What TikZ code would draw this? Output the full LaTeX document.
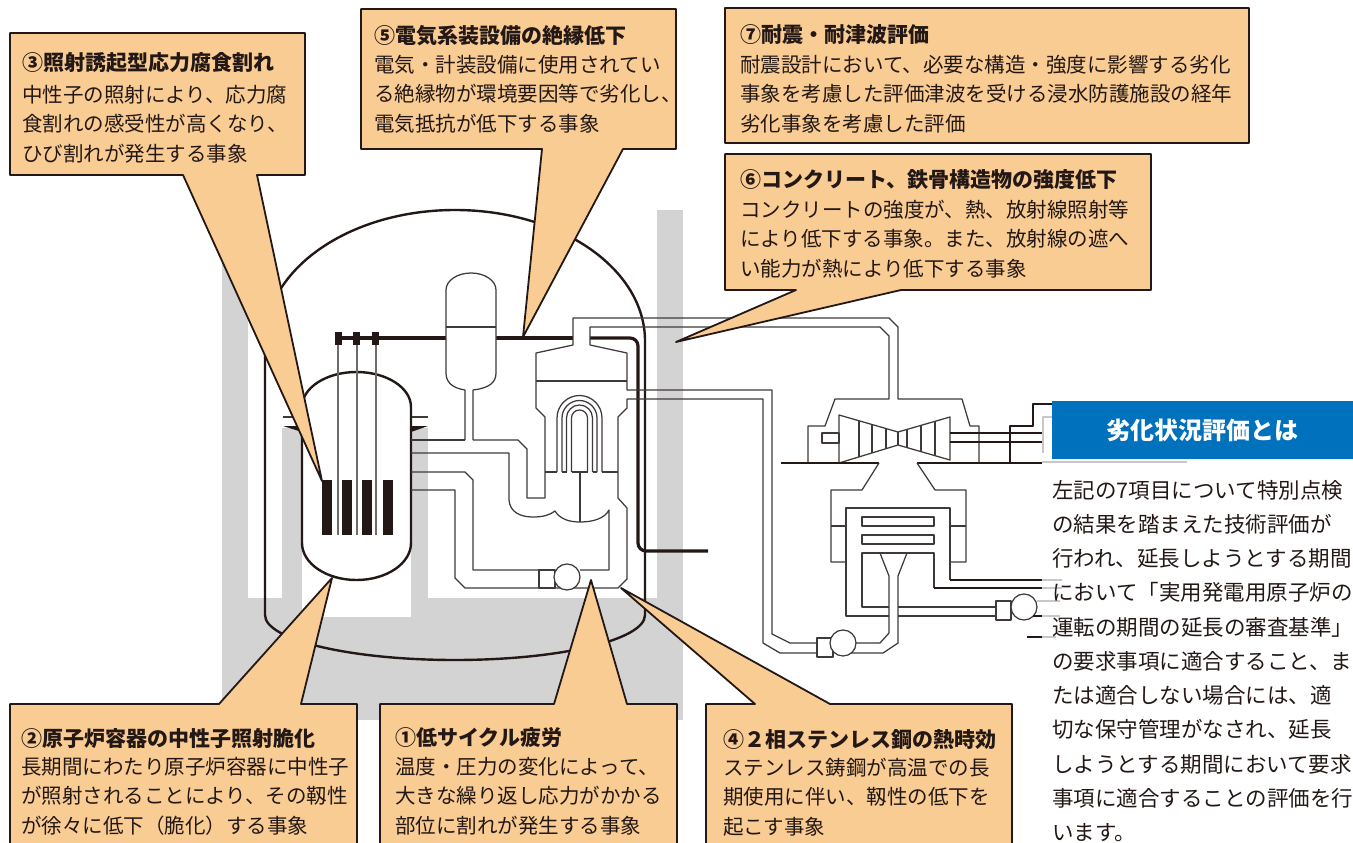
\documentclass[tikz,border=0pt]{standalone}
\usepackage{fontspec}
\usepackage{tikz}
\setmainfont{Noto Sans CJK JP}
\XeTeXlinebreaklocale "ja"
\XeTeXlinebreakskip=0pt plus 3pt minus 1pt
\definecolor{ink}{RGB}{35,24,21}
\definecolor{pipe}{RGB}{62,58,57}
\definecolor{note}{RGB}{249,204,147}
\definecolor{concrete}{RGB}{211,211,211}
\definecolor{faint}{RGB}{200,200,200}
\definecolor{head}{RGB}{0,113,188}

\begin{document}
\begin{tikzpicture}[x=1pt, y=-1pt, line join=round,
  wall/.style={draw=ink, line width=2.4pt},
  pipe/.style={draw=pipe, line width=1.25pt},
  heavy/.style={draw=ink, line width=3.2pt},
  floor/.style={draw=ink, line width=2pt},
  callout/.style={fill=note, draw=ink, line width=1.8pt},
  ttl/.style={anchor=west, inner sep=0pt, text=ink, font=\fontsize{21}{26}\selectfont\bfseries},
  txt/.style={anchor=west, inner sep=0pt, align=left, text=ink, font=\fontsize{20.5}{29.5}\selectfont}]
\useasboundingbox (0,0) rectangle (1353,843);

% concrete
\fill[concrete] (222,262) rectangle (248,720);
\fill[concrete] (222,598) rectangle (302,720);
\fill[concrete] (282,428) rectangle (302,598);
\fill[concrete] (302,617) rectangle (411,720);
\fill[concrete] (411,428) rectangle (428,720);
\fill[concrete] (428,598) rectangle (683,720);
\fill[concrete] (657,210) rectangle (683,720);

% containment
\draw[wall] (265,615) -- (265,341) arc[start angle=180, end angle=360, x radius=190, y radius=131]
  -- (645,615) arc[start angle=0, end angle=180, x radius=190, y radius=45];

% control rod drive line
\draw[heavy] (335,338) -- (446,338);
\draw[heavy] (496,338) -- (573,338);
\draw[heavy, rounded corners=8pt] (590,338) -- (638,338) -- (638,551) -- (708,551);

% reactor vessel
\draw[pipe] (283,417) -- (302,417);
\draw[pipe] (411,417) -- (428,417);
\fill[ink] (283,426) -- (302,426) -- (302,432) -- cycle;
\fill[ink] (428,426) -- (411,426) -- (411,432) -- cycle;
\draw[wall, fill=white] (302,543) -- (302,407) arc[start angle=180, end angle=360, x radius=54.5, y radius=35]
  -- (411,543) arc[start angle=0, end angle=180, x radius=54.5, y radius=37] -- cycle;
\foreach \x in {322,342,362,383}
  \fill[ink] (\x,480) rectangle ++(10,55);
\foreach \x in {338,357,376}
  \draw[pipe, draw=pipe!75] (\x,345) -- (\x,535);
\foreach \x in {335,353,372}
  \fill[ink] (\x,332) rectangle ++(7,13);

% pressurizer
\draw[pipe, fill=white] (465,440) -- (465,390) .. controls (452,388) and (446,382) .. (446,373) -- (446,290)
  arc[start angle=180, end angle=360, x radius=25, y radius=17] -- (496,373)
  .. controls (496,382) and (490,388) .. (473,390) -- (473,440);
\draw[pipe] (446,327) -- (496,327);

% hot leg, steam generator, main steam line
\draw[pipe] (411,440) -- (465,440);
\draw[pipe] (473,440) -- (518,440) -- (527,449) -- (527,498) -- (545,498) -- (545,417) -- (536,408)
  -- (536,353) -- (573,345) -- (573,318) -- (889,318) -- (898,327) -- (898,399) -- (962,399)
  -- (970,426) -- (979,426) -- (979,463);
\draw[pipe] (411,453) -- (509,453) -- (509,500) .. controls (510,512) and (520,517) .. (533,517)
  .. controls (543,517) and (550,515) .. (555,511) .. controls (560,519) and (569,522) .. (580,522)
  .. controls (594,522) and (605,518) .. (609,510) -- (609,570) -- (580,570);
\draw[pipe] (817,643) -- (790,643) -- (772,634) -- (772,390) -- (627,390) -- (627,353) -- (590,345)
  -- (590,327) -- (880,327) -- (889,336) -- (889,399) -- (835,399) -- (825,426) -- (808,426) -- (808,463);
\draw[pipe] (536,381) -- (627,381);
\draw[pipe] (545,472) -- (557,472) (562,472) -- (567,472) (572,472) -- (588,472)
  (593,472) -- (597,472) (602,472) -- (618,472);
\foreach \r in {22.5,17.5,13,8}
  \draw[pipe] ({579.5-\r},472) -- ({579.5-\r},418) arc[start angle=180, end angle=360, radius=\r] -- ({579.5+\r},472);
\draw[pipe] (580,472) -- (580,522);

% cold leg and feedwater line
\draw[pipe] (411,472) -- (465,472) -- (473,480) -- (473,570) -- (539,570);
\draw[pipe] (411,490) -- (455,490) -- (455,578) -- (465,588) -- (618,588) -- (627,579) -- (627,508)
  -- (618,498) -- (618,417) -- (627,408) -- (627,399) -- (763,399) -- (763,643) -- (780,653) -- (817,653);
\draw[pipe, fill=white] (539,570) rectangle (555,588);
\draw[pipe, fill=white] (567,577) circle[radius=13];

% turbine
\draw[pipe] (822,433) rectangle (839,443);
\draw[pipe] (839,415) -- (898,432) -- (950,417) -- (950,460) -- (898,445) -- (839,463) -- cycle;
\draw[pipe] (898,432) -- (898,445);
\foreach \x/\a/\b in {859/420.8/456.9, 872/424.5/452.9, 886/428.5/448.7,
                      907/429.4/447.6, 921/425.4/451.6, 935/421.3/455.7}
  \draw[pipe] (\x,\a) -- (\x,\b);
\draw[floor] (781,463) -- (879,463);
\draw[floor] (917,463) -- (1042,463);
\draw[draw=ink, line width=1.6pt] (950,433) -- (1042,433) (950,442) -- (1042,442);
\draw[draw=ink, line width=1.4pt] (1010,463) -- (1010,426) -- (1033,426) -- (1033,404) -- (1052,404);
\draw[draw=faint, line width=1.2pt] (1042,462) -- (1187,462) (1043,453) -- (1043,417) -- (1052,417);

% condenser
\draw[pipe] (879,463) -- (862,490) -- (831,490) -- (831,562) -- (846,562);
\draw[pipe] (917,463) -- (935,490) -- (966,490) -- (966,562) -- (950,562);
\draw[pipe] (831,526) -- (846,526) (950,526) -- (966,526);
\draw[pipe] (889,616) -- (846,616) -- (846,508) -- (950,508) -- (950,580);
\draw[pipe] (862,517) rectangle (934,526);
\draw[pipe] (862,535) rectangle (934,544);
\draw[pipe] (889,607) -- (862,607) -- (862,553) -- (934,553) -- (934,588);
\draw[pipe] (898,607) -- (996,607) (898,616) -- (996,616);
\draw[pipe] (880,553) -- (889,576) -- (889,633) -- (880,643) -- (855,643);
\draw[pipe] (907,553) -- (898,576) -- (898,643) -- (883,653) -- (851,653);
\draw[floor, line width=1.6pt] (950,580) -- (1042,580) (934,588) -- (1042,588);
\draw[draw=faint, line width=1.2pt] (1042,580) -- (1062,580) (1042,588) -- (1062,588);
\draw[pipe, fill=white] (996,601) rectangle (1011,620);
\draw[pipe, fill=white] (1024,607) circle[radius=13];
\draw[draw=ink, line width=1.4pt] (1033,616) -- (1042,616) (1027,637) -- (1042,637);
\draw[draw=faint, line width=1.2pt] (1037,601) -- (1060,601) (1042,616) -- (1060,616) (1042,637) -- (1056,637);
\draw[pipe, fill=white] (817,638) rectangle (833,657);
\draw[pipe, fill=white] (843,643) circle[radius=13];

% callouts
\coordinate (tip3) at (322,481);
\coordinate (tip5) at (523,337);
\coordinate (tip6) at (676,342);
\coordinate (tip2) at (332,578);
\coordinate (tip1) at (591,580);
\coordinate (tip4) at (621,588);
\draw[callout] (10,33) -- (305,33) -- (305,175) -- (257,175) -- (tip3) -- (183,175) -- (10,175) -- cycle;
\draw[callout] (361,9) -- (676,9) -- (676,149) -- (623,149) -- (tip5) -- (542,149) -- (361,149) -- cycle;
\draw[callout] (725,8) rectangle (1249,143);
\draw[callout] (725,154) -- (1151,154) -- (1151,290) -- (901,290) -- (tip6) -- (796,290) -- (725,290) -- cycle;
\draw[callout] (10,704) -- (219,704) -- (tip2) -- (301,704) -- (357,704) -- (357,852) -- (10,852) -- cycle;
\draw[callout] (380,704) -- (554,704) -- (tip1) -- (627,704) -- (677,704) -- (677,852) -- (380,852) -- cycle;
\draw[callout] (706,704) -- (755,704) -- (tip4) -- (830,704) -- (1012,704) -- (1012,852) -- (706,852) -- cycle;

\node[ttl] (t3) at (22,63) {③照射誘起型応力腐食割れ};
\node[txt] (b3) at (22,124) {中性子の照射により、応力腐\\食割れの感受性が高くなり、\\ひび割れが発生する事象};
\node[ttl] (t5) at (374,36) {⑤電気系装設備の絶縁低下};
\node[txt] (b5) at (374,94) {電気・計装設備に使用されてい\\る絶縁物が環境要因等で劣化し、\\電気抵抗が低下する事象};
\node[ttl] (t7) at (740,35) {⑦耐震・耐津波評価};
\node[txt] (b7) at (740,94) {耐震設計において、必要な構造・強度に影響する劣化\\事象を考慮した評価津波を受ける浸水防護施設の経年\\劣化事象を考慮した評価};
\node[ttl] (t6) at (740,180) {⑥コンクリート、鉄骨構造物の強度低下};
\node[txt] (b6) at (740,239) {コンクリートの強度が、熱、放射線照射等\\により低下する事象。また、放射線の遮へ\\い能力が熱により低下する事象};
\node[ttl] (t2) at (21,738) {②原子炉容器の中性子照射脆化};
\node[txt] (b2) at (21,796) {長期間にわたり原子炉容器に中性子\\が照射されることにより、その靱性\\が徐々に低下（脆化）する事象};
\node[ttl] (t1) at (395,738) {①低サイクル疲労};
\node[txt] (b1) at (395,796) {温度・圧力の変化によって、\\大きな繰り返し応力がかかる\\部位に割れが発生する事象};
\node[ttl] (t4) at (723,740) {④２相ステンレス鋼の熱時効};
\node[txt] (b4) at (723,797) {ステンレス鋳鋼が高温での長\\期使用に伴い、靱性の低下を\\起こす事象};

% summary panel
\node[fill=head, text=white, minimum width=301pt, minimum height=58pt, inner sep=0pt,
  font=\fontsize{24}{28}\selectfont\bfseries] (hdr) at (1202.5,430) {劣化状況評価とは};
\node[txt, font=\fontsize{21.5}{34.25}\selectfont] (desc) at (1052,661)
  {\makebox[300pt][s]{左記の7項目について特別点検}\\
   \makebox[300pt][s]{の結果を踏まえた技術評価が}\\
   \makebox[300pt][s]{行われ、延長しようとする期間}\\
   \makebox[300pt][s]{において「実用発電用原子炉の}\\
   \makebox[300pt][s]{運転の期間の延長の審査基準」}\\
   \makebox[300pt][s]{の要求事項に適合すること、ま}\\
   \makebox[300pt][s]{たは適合しない場合には、適}\\
   \makebox[300pt][s]{切な保守管理がなされ、延長}\\
   \makebox[300pt][s]{しようとする期間において要求}\\
   \makebox[300pt][s]{事項に適合することの評価を行}\\
   います。};
\end{tikzpicture}
\end{document}
